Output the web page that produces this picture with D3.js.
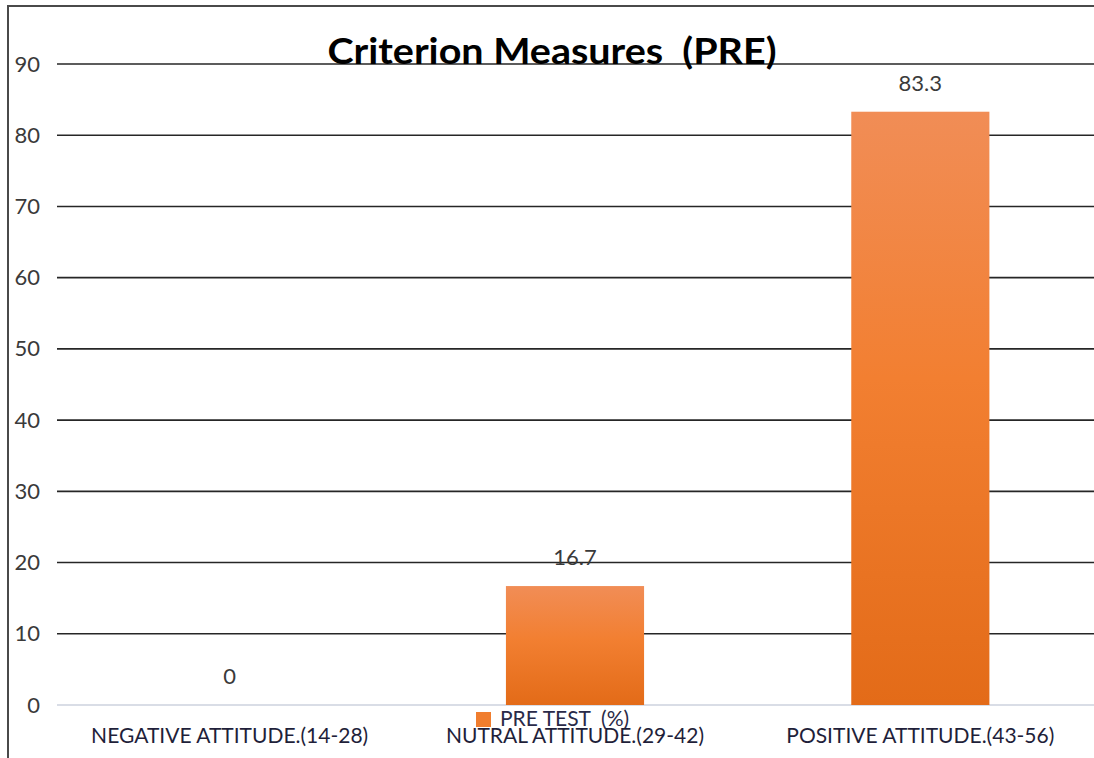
<!DOCTYPE html>
<html>
<head>
    <title>Criterion Measures (PRE)</title>
    <script src="https://d3js.org/d3.v7.min.js"></script>
    <style>
        body { margin: 0; background: #fff; }
        svg { display: block; }
        text { white-space: pre; }
        .grid line { stroke: #262626; stroke-width: 1.6; }
        .axis text { font-family: Lato, sans-serif; font-size: 22px; fill: #3a3a3a; }
        .value-label { font-family: Lato, sans-serif; font-size: 22px; fill: #3a3a3a; text-anchor: middle; }
        .x-label { font-family: Lato, sans-serif; font-size: 21px; fill: #1f1f3a; text-anchor: middle; }
        .chart-title { font-family: Lato, sans-serif; font-size: 36px; font-weight: bold; fill: #000; text-anchor: middle; }
        .legend-text { font-family: Lato, sans-serif; font-size: 21px; fill: #2a2a48; }
    </style>
</head>
<body>
<div id="chart"></div>
<script>
    // data
    const categories = ["NEGATIVE ATTITUDE.(14-28)", "NUTRAL ATTITUDE.(29-42)", "POSITIVE ATTITUDE.(43-56)"];
    const preTest = [0, 16.7, 83.3];
    const yTicks = [0, 10, 20, 30, 40, 50, 60, 70, 80, 90];
    const seriesName = "PRE TEST  (%)";
    const title = "Criterion Measures  (PRE)";

    const W = 1094, H = 758;
    const plot = { left: 57, right: 1093, top: 64, bottom: 705 };

    const svg = d3.select("#chart").append("svg")
        .attr("width", W)
        .attr("height", H);

    // bar gradient
    const grad = svg.append("defs").append("linearGradient")
        .attr("id", "barGrad")
        .attr("x1", 0).attr("y1", 0).attr("x2", 0).attr("y2", 1);
    grad.append("stop").attr("offset", "0%").attr("stop-color", "#f18d56");
    grad.append("stop").attr("offset", "45%").attr("stop-color", "#f27f31");
    grad.append("stop").attr("offset", "100%").attr("stop-color", "#e36b18");

    const x = d3.scaleBand()
        .domain(categories)
        .range([plot.left, plot.right])
        .padding(0);

    const y = d3.scaleLinear()
        .domain([0, 90])
        .range([plot.bottom, plot.top]);

    const barW = x.bandwidth() * 0.4;

    // frame
    svg.append("path")
        .attr("d", `M8,${H} L8,6 L${W},6`)
        .attr("fill", "none")
        .attr("stroke", "#4a4a4a")
        .attr("stroke-width", 2);

    // gridlines
    svg.append("g")
        .attr("class", "grid")
        .selectAll("line")
        .data(yTicks.filter(d => d > 0))
        .join("line")
        .attr("x1", plot.left)
        .attr("x2", W)
        .attr("y1", d => y(d))
        .attr("y2", d => y(d));

    // baseline
    svg.append("line")
        .attr("x1", plot.left).attr("x2", W)
        .attr("y1", y(0)).attr("y2", y(0))
        .attr("stroke", "#d9dde6")
        .attr("stroke-width", 2);

    // y axis labels
    const yAxis = svg.append("g")
        .attr("class", "axis")
        .attr("transform", "translate(40,0)")
        .call(d3.axisLeft(y).tickValues(yTicks).tickSize(0).tickPadding(0));
    yAxis.select(".domain").remove();
    yAxis.selectAll("text").attr("fill", "#3a3a3a");

    // title
    svg.append("text")
        .attr("class", "chart-title")
        .attr("x", 552)
        .attr("y", 64)
        .attr("textLength", 449)
        .attr("lengthAdjust", "spacingAndGlyphs")
        .text(title);

    // bars
    svg.selectAll(".bar")
        .data(preTest)
        .join("rect")
        .attr("class", "bar")
        .attr("x", (d, i) => x(categories[i]) + (x.bandwidth() - barW) / 2)
        .attr("y", d => y(d))
        .attr("width", barW)
        .attr("height", d => y(0) - y(d))
        .attr("fill", "url(#barGrad)");

    // value labels
    svg.selectAll(".value-label")
        .data(preTest)
        .join("text")
        .attr("class", "value-label")
        .attr("x", (d, i) => x(categories[i]) + x.bandwidth() / 2)
        .attr("y", d => y(d) - 21)
        .text(d => d);

    // legend (overlaps the middle category label, as in the original)
    const legend = svg.append("g").attr("transform", "translate(476,712)");
    legend.append("rect")
        .attr("width", 15).attr("height", 15)
        .attr("fill", "#f07d2e");
    legend.append("text")
        .attr("class", "legend-text")
        .attr("x", 24)
        .attr("y", 14)
        .text(seriesName);

    // category labels
    svg.selectAll(".x-label")
        .data(categories)
        .join("text")
        .attr("class", "x-label")
        .attr("x", d => x(d) + x.bandwidth() / 2)
        .attr("y", 743)
        .text(d => d);
</script>
</body>
</html>
